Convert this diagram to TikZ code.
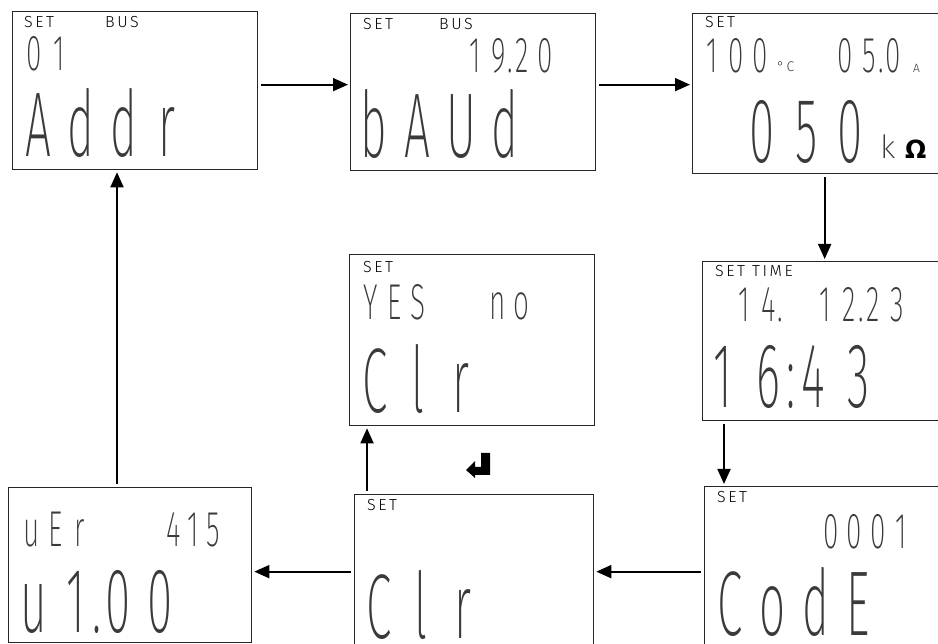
\documentclass[tikz,border=0pt]{standalone}
\usepackage{fontspec}
\usetikzlibrary{arrows.meta}
\IfFontExistsTF{Fira Sans ExtraLight}{\newfontfamily\segfont{Fira Sans ExtraLight}}{\newfontfamily\segfont{DejaVu Sans}}
\IfFontExistsTF{Fira Sans Light}{\newfontfamily\lblfont{Fira Sans Light}[LetterSpace=16]}{\newfontfamily\lblfont{DejaVu Sans}}
\newfontfamily\symfont{DejaVu Sans}
\definecolor{segc}{HTML}{3A3A3A}
\ExplSyntaxOn
\NewDocumentCommand\segtext{mm}
 {
  \tl_map_inline:nn {#2}
   {
    \str_if_eq:nnTF {##1} {.}
     { \makebox[0pt][c]{.} }
     {
      \str_if_eq:nnTF {##1} {:}
       { \makebox[0pt][c]{:} }
       { \makebox[#1][c]{##1} }
     }
   }
 }
\ExplSyntaxOff
\newcommand\lcdbig[2]{\raisebox{0pt}[\height][0pt]{\scalebox{1}[2.0]{\segtext{#1}{#2}}}}
\newcommand\lcdsmall[2]{\raisebox{0pt}[\height][0pt]{\scalebox{1}[1.8]{\segtext{#1}{#2}}}}
\tikzset{
  lcdbox/.style={draw=black!85, line width=1.3pt, anchor=north west, inner sep=0pt},
  lbl/.style={anchor=base west, inner sep=0pt, font=\lblfont\fontsize{16}{16}\selectfont},
  seglg/.style={anchor=base west, inner sep=0pt, text=segc, font=\segfont\fontsize{46}{46}\selectfont},
  segsm/.style={anchor=base west, inner sep=0pt, text=segc, font=\segfont\fontsize{28}{28}\selectfont},
  unitlbl/.style={anchor=base west, inner sep=0pt, text=segc, font=\lblfont\fontsize{#1}{#1}\selectfont},
  arr/.style={line width=1.8pt, -{Triangle[length=15pt,width=13pt]}, shorten <=3pt, shorten >=2pt},
}
\begin{document}
\begin{tikzpicture}[x=1pt,y=-1pt]
\useasboundingbox (0,0) rectangle (938,644);
\clip (0,0) rectangle (938,644);
% boxes
\node[lcdbox, minimum width=245pt, minimum height=158pt] (b1) at (12,11) {};
\node[lcdbox, minimum width=245pt, minimum height=157pt] (b2) at (350,13) {};
\node[lcdbox, minimum width=260pt, minimum height=160pt] (b3) at (692,13) {};
\node[lcdbox, minimum width=245pt, minimum height=171pt] (b4) at (349,254) {};
\node[lcdbox, minimum width=250pt, minimum height=159pt] (b5) at (702,261) {};
\node[lcdbox, minimum width=243pt, minimum height=155pt] (b6) at (8,487) {};
\node[lcdbox, minimum width=239pt, minimum height=170pt] (b7) at (354,494) {};
\node[lcdbox, minimum width=250pt, minimum height=170pt] (b8) at (704,486) {};
% box 1
\node[lbl] (t1a) at (24,28) {SET};
\node[lbl] (t1b) at (105,28) {BUS};
\node[segsm] (t1c) at (21.5,71) {\lcdsmall{25pt}{01}};
\node[seglg] (t1d) at (16.5,157) {\lcdbig{43pt}{Addr}};
% box 2
\node[lbl] (t2a) at (363,30) {SET};
\node[lbl] (t2b) at (439,30) {BUS};
\node[segsm] (t2c) at (463,73) {\lcdsmall{23.5pt}{19.20}};
\node[seglg] (t2d) at (352,158) {\lcdbig{43.5pt}{bAUd}};
% box 3
\node[lbl] (t3a) at (705,28) {SET};
\node[segsm] (t3b) at (700,73) {\lcdsmall{24pt}{100}};
\node[unitlbl=14] (t3c) at (777,72) {°C};
\node[segsm] (t3d) at (833,73) {\lcdsmall{24pt}{05.0}};
\node[unitlbl=12] (t3e) at (913,73) {A};
\node[seglg] (t3f) at (740,163) {\lcdbig{44pt}{050}};
\node[anchor=base west, inner sep=0pt, text=segc, font=\segfont\fontsize{32}{32}\selectfont] (t3g) at (880,159) {k};
\node[anchor=base west, inner sep=0pt, font=\symfont\bfseries\fontsize{25}{25}\selectfont] (t3h) at (905,159) {Ω};
% box 4
\node[lbl] (t4a) at (363,273) {SET};
\node[segsm] (t4b) at (359,320) {\lcdsmall{23.5pt}{YES}};
\node[segsm] (t4c) at (485,320) {\lcdsmall{24pt}{no}};
\node[seglg] (t4d) at (353.5,413) {\lcdbig{43pt}{Clr}};
% box 5
\node[lbl] (t5a) at (715,277) {SET TIME};
\node[segsm] (t5b) at (732,322) {\lcdsmall{24pt}{14.}};
\node[segsm] (t5c) at (813,322) {\lcdsmall{24pt}{12.23}};
\node[seglg] (t5d) at (700.5,408) {\lcdbig{45pt}{16:43}};
% box 6
\node[segsm] (t6a) at (19,546) {\lcdsmall{24pt}{uEr}};
\node[segsm] (t6b) at (163,546) {\lcdsmall{20pt}{415}};
\node[seglg] (t6c) at (13,632) {\lcdbig{42pt}{u 1.00}};
% box 7
\node[lbl] (t7a) at (367,511) {SET};
\node[seglg] (t7b) at (358,638) {\lcdbig{42pt}{Clr}};
% box 8
\node[lbl] (t8a) at (717,503) {SET};
\node[segsm] (t8b) at (819.5,548) {\lcdsmall{23.3pt}{0001}};
\node[seglg] (t8c) at (708.5,635) {\lcdbig{42.7pt}{CodE}};
% connectors
\coordinate (a1) at ([yshift=6pt]b1.east);
\coordinate (a2) at ([yshift=7.5pt]b2.east);
\coordinate (a3) at ([xshift=2pt]b3.south);
\coordinate (a4) at ([xshift=22pt]b5.south west);
\coordinate (a7) at ([xshift=13pt]b7.north west);
\coordinate (a8) at ([xshift=109pt]b6.north west);
\draw[arr] (a1) -- (a1 -| b2.west);
\draw[arr] (a2) -- (a2 -| b3.west);
\draw[arr] (a3) -- (a3 |- b5.north);
\draw[arr] (a4) -- (a4 |- b8.north);
\draw[arr] (b8.west) -- (b8.west -| b7.east);
\draw[arr] (b8.west -| b7.west) -- (b8.west -| b6.east);
\draw[arr] (a7) -- (a7 |- b4.south);
\draw[arr] (a8) -- (a8 |- b1.south);
% enter symbol
\fill (490,453) -- (481,453) -- (481,467) -- (475,467) -- (475,461) -- (466,470)
  -- (475,478) -- (475,475) -- (490,475) -- cycle;
\end{tikzpicture}
\end{document}
